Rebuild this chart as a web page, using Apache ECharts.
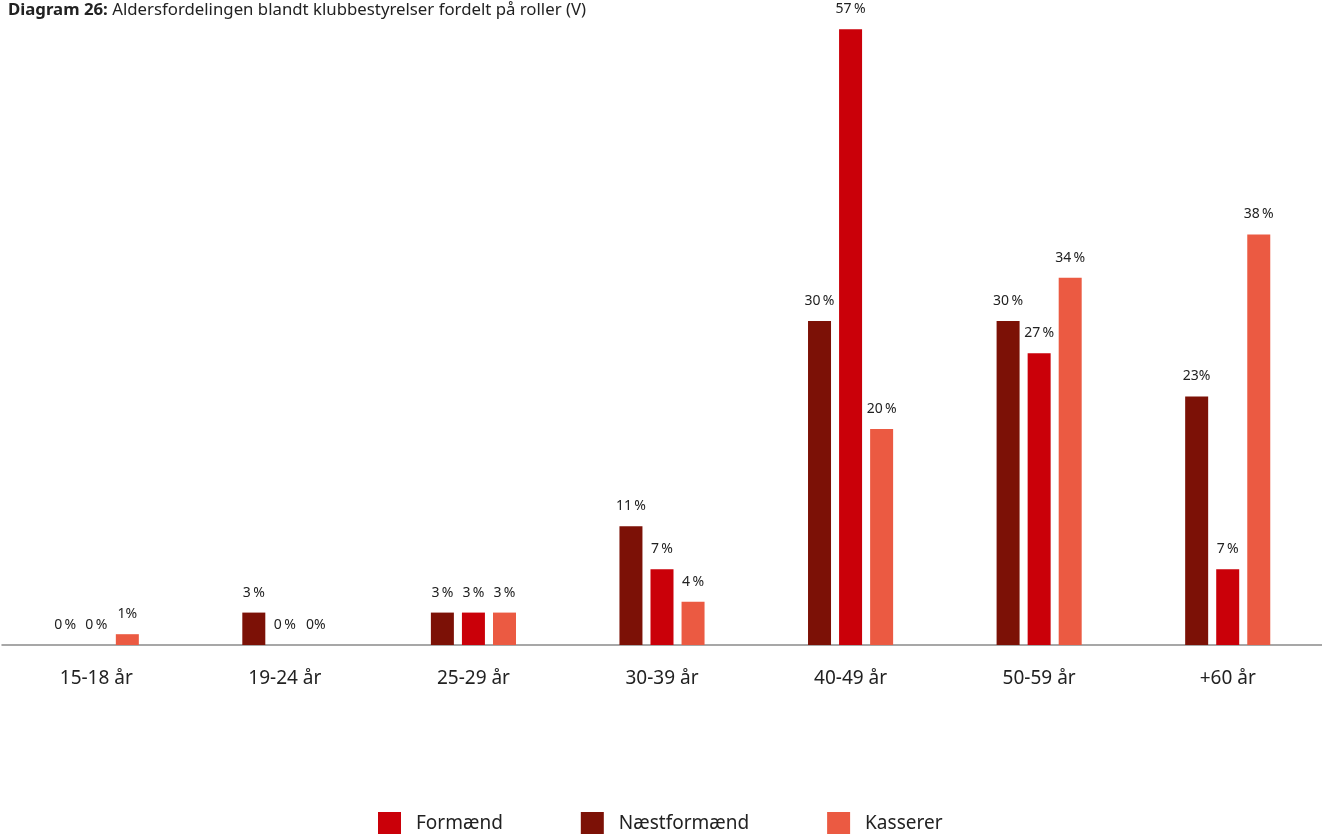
<!DOCTYPE html>
<html>
<head>
<meta charset="utf-8">
<script src="https://cdn.jsdelivr.net/npm/echarts@6/dist/echarts.min.js"></script>
<style>
html,body{margin:0;padding:0;background:#fff;}
#c{width:1322px;height:834px;}
</style>
</head>
<body>
<div id="c"></div>
<script>
var categories = ['15-18 år', '19-24 år', '25-29 år', '30-39 år', '40-49 år', '50-59 år', '+60 år'];
var naestformaend = [0, 3, 3, 11, 30, 30, 23];
var formaend = [0, 0, 3, 7, 57, 27, 7];
var kasserer = [1, 0, 3, 4, 20, 34, 38];
var naestLabels = ['0\u2009%', '3\u2009%', '3\u2009%', '11\u2009%', '30\u2009%', '30\u2009%', '23%'];
var formLabels = ['0\u2009%', '0\u2009%', '3\u2009%', '7\u2009%', '57\u2009%', '27\u2009%', '7\u2009%'];
var kassLabels = ['1%', '0%', '3\u2009%', '4\u2009%', '20\u2009%', '34\u2009%', '38\u2009%'];

var FONT = 'Noto Sans';
var chart = echarts.init(document.getElementById('c'), null, {renderer: 'canvas'});

function labelCfg(arr) {
  return {
    show: true,
    position: 'top',
    distance: 13,
    fontFamily: FONT,
    fontSize: 14,
    color: '#222',
    formatter: function (p) { return arr[p.dataIndex]; }
  };
}

chart.setOption({
  animation: false,
  backgroundColor: '#fff',
  title: {
    left: 8,
    top: 2,
    padding: 0,
    text: '{b|Diagram 26:} Aldersfordelingen blandt klubbestyrelser fordelt på roller (V)',
    textStyle: {
      fontFamily: FONT,
      fontSize: 16.8,
      fontWeight: 'normal',
      color: '#222',
      rich: {
        b: {fontFamily: FONT, fontSize: 16.8, fontWeight: 'bold', color: '#222'}
      }
    }
  },
  legend: {
    data: ['Formænd', 'Næstformænd', 'Kasserer'],
    left: 378,
    top: 812,
    icon: 'rect',
    itemWidth: 23,
    itemHeight: 23,
    itemGap: 78,
    padding: 0,
    textStyle: {
      fontFamily: FONT,
      fontSize: 19,
      color: '#222',
      padding: [0, 0, 0, 10]
    }
  },
  grid: {
    left: 2,
    right: -6,
    top: 0,
    bottom: 189,
    containLabel: false
  },
  xAxis: {
    type: 'category',
    data: categories,
    axisLine: {show: true, lineStyle: {color: '#8a8a8a', width: 1.5}},
    axisTick: {show: false},
    axisLabel: {
      fontFamily: FONT,
      fontSize: 19,
      color: '#222',
      margin: 24
    }
  },
  yAxis: {
    type: 'value',
    min: 0,
    max: 59.7,
    show: false,
    splitLine: {show: false}
  },
  series: [
    {
      name: 'Næstformænd',
      type: 'bar',
      data: naestformaend,
      barWidth: 23,
      barGap: '35%',
      itemStyle: {color: '#7C1106'},
      label: labelCfg(naestLabels)
    },
    {
      name: 'Formænd',
      type: 'bar',
      data: formaend,
      barWidth: 23,
      barGap: '35%',
      itemStyle: {color: '#CA0009'},
      label: labelCfg(formLabels)
    },
    {
      name: 'Kasserer',
      type: 'bar',
      data: kasserer,
      barWidth: 23,
      barGap: '35%',
      itemStyle: {color: '#EB5A42'},
      label: labelCfg(kassLabels)
    }
  ]
});
</script>
</body>
</html>
